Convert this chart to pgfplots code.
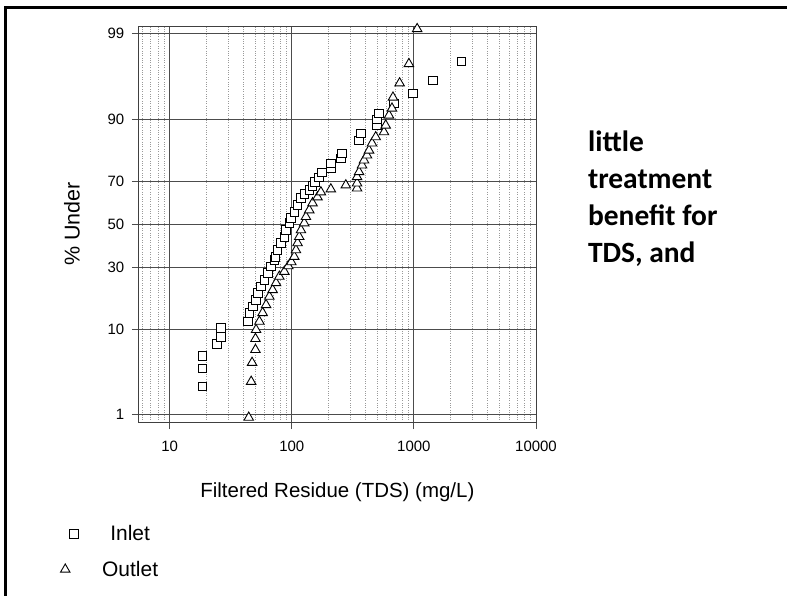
\documentclass[border=0pt]{standalone}
\usepackage{pgfplots}
\pgfplotsset{compat=1.18}
\usepackage{pgfplotstable}
\usepackage{fontspec}
\setmainfont{Liberation Sans}
\newfontfamily\calibri{Carlito}

\pgfplotsset{
  inlet legend/.style={legend image code/.code={\draw[##1] plot coordinates {(12pt,0pt)}; \path[draw=none,fill=none] (0pt,0pt) (38pt,0pt);}},
  outlet legend/.style={legend image code/.code={\draw[##1] plot coordinates {(3pt,0pt)}; \path[draw=none,fill=none] (0pt,0pt) (38pt,0pt);}}
}

% x = TDS (mg/L), z = normal score of the cumulative percentage (probability scale)
\pgfplotstableread{
x z
18.5 -1.985
18.5 -1.766
18.5 -1.608
24.5 -1.462
26.4 -1.376
26.4 -1.267
43.6 -1.190
45.0 -1.084
47.9 -1.007
51.0 -0.926
52.6 -0.840
56.1 -0.764
59.7 -0.682
63.5 -0.600
67.6 -0.520
71.9 -0.438
73.3 -0.398
76.6 -0.317
81.6 -0.231
86.9 -0.155
89.7 -0.073
95.4 0.012
98.5 0.073
104.8 0.150
111.5 0.231
118.9 0.317
126.5 0.365
139.0 0.414
147.1 0.463
155.6 0.512
167.7 0.572
177.4 0.633
208.9 0.682
208.9 0.743
252.2 0.804
258.4 0.865
355.6 1.023
367.2 1.108
498.9 1.206
498.9 1.279
518.0 1.352
686.6 1.474
981.3 1.596
1429 1.754
2451 1.985
}\inlet

\pgfplotstableread{
x z
44.4 -2.363
46.5 -1.924
47.3 -1.693
50.4 -1.535
50.4 -1.401
51.0 -1.291
54.3 -1.190
57.7 -1.084
61.6 -0.987
65.5 -0.885
69.7 -0.804
74.3 -0.719
79.1 -0.641
86.9 -0.580
93.6 -0.512
99.1 -0.463
104.8 -0.398
108.2 -0.317
111.5 -0.231
115.1 -0.155
118.9 -0.073
126.5 0.012
130.6 0.089
139.0 0.171
147.9 0.256
162.4 0.329
173.2 0.390
208.9 0.426
277.0 0.475
342.5 0.438
342.5 0.499
342.5 0.576
355.6 0.637
376.2 0.719
390.6 0.780
413.2 0.840
429.1 0.901
454.0 0.987
486.9 1.063
569.0 1.124
587.5 1.206
625.3 1.328
661.5 1.413
674.1 1.547
764.3 1.721
910.5 1.957
1064 2.384
}\outlet

\begin{document}
\begin{tikzpicture}[x=1pt,y=1pt]
\path[fill=white] (0,0) rectangle (788,-597);
\draw[line width=3pt] (5.5,-597) -- (5.5,-7.5) -- (788,-7.5);
\begin{axis}[
  at={(139pt,-423pt)}, anchor=south west,
  scale only axis, width=398pt, height=397pt,
  xmode=log, xmin=5.58, xmax=10000,
  ymin=-2.42, ymax=2.42,
  clip=false,
  xtick={10,100,1000,10000}, xticklabels={10,100,1000,10000},
  minor xtick={6,7,8,9,20,30,40,50,60,70,80,90,200,300,400,500,600,700,800,900,2000,3000,4000,5000,6000,7000,8000,9000},
  ytick={-2.3263,-1.2816,-0.5244,0,0.5244,1.2816,2.3263},
  yticklabels={1,10,30,50,70,90,99},
  xtick pos=bottom, ytick pos=left, tick align=outside,
  major tick length=7pt, minor tick length=0pt,
  xmajorgrids, ymajorgrids, xminorgrids,
  major grid style={draw=black!70, line width=0.9pt},
  minor grid style={draw=black!40, dotted, line width=0.6pt},
  axis line style={draw=black!75, line width=0.8pt},
  every tick/.style={black!70, line width=0.9pt},
  tick label style={font=\fontsize{15}{18}\selectfont},
  yticklabel style={xshift=-4pt},
  xticklabel style={yshift=-8pt},
  xlabel={Filtered Residue (TDS) (mg/L)},
  ylabel={\% Under},
  label style={font=\fontsize{20.5}{24}\selectfont},
  x label style={at={(axis description cs:0.5,-0.176)}, anchor=center},
  y label style={at={(axis description cs:-0.168,0.5)}, anchor=center, font=\fontsize{21.5}{24}\selectfont},
  legend style={at={(axis description cs:-0.205,-0.250)}, anchor=north west,
    draw=none, fill=none, font=\fontsize{21}{25}\selectfont, row sep=15pt},
  legend cell align=center,
]
\addplot[only marks, mark=square*, mark size=4.3pt, mark options={fill=white, draw=black, line width=0.9pt},
  inlet legend] table[x=x,y=z] {\inlet};
\addlegendentry{Inlet}
\addplot[only marks, mark=triangle*, mark size=5.5pt, mark options={fill=white, draw=black, line width=0.9pt},
  outlet legend] table[x=x,y=z] {\outlet};
\addlegendentry{Outlet}
\end{axis}
\begin{scope}[every node/.style={anchor=base west, inner sep=0pt, font=\calibri\bfseries\fontsize{29.5}{35}\selectfont}]
\node at (589,-151.7) {little};
\node at (589,-188.9) {treatment};
\node at (589,-226.1) {benefit for};
\node at (589,-263.3) {TDS, and};
\end{scope}
\end{tikzpicture}
\end{document}
